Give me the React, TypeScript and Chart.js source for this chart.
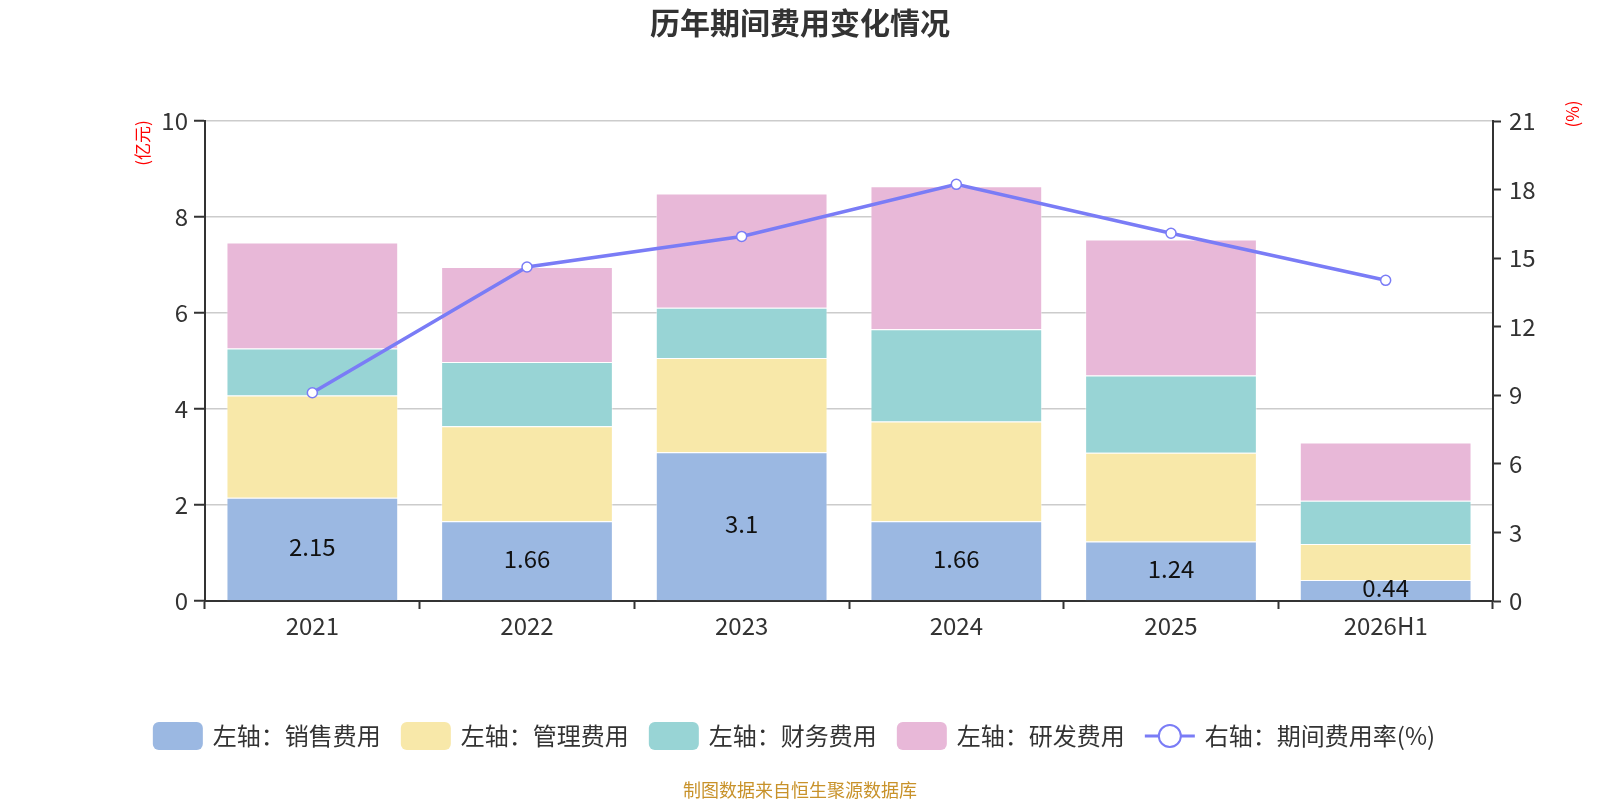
import React, { useEffect, useRef } from "react";
import { Chart, registerables } from "chart.js";

Chart.register(...registerables);

const categories = ["2021", "2022", "2023", "2024", "2025", "2026H1"];
const salesExpense = [2.15, 1.66, 3.1, 1.66, 1.24, 0.44];
const adminExpense = [2.13, 1.98, 1.96, 2.08, 1.85, 0.75];
const financeExpense = [0.98, 1.34, 1.05, 1.92, 1.61, 0.9];
const rdExpense = [2.21, 1.98, 2.38, 2.98, 2.83, 1.21];
const expenseRate = [9.11, 14.61, 15.95, 18.23, 16.09, 14.03];

const seriesNames = ["左轴：销售费用", "左轴：管理费用", "左轴：财务费用", "左轴：研发费用", "右轴：期间费用率(%)"];
const titleText = "历年期间费用变化情况";
const sourceText = "制图数据来自恒生聚源数据库";
const leftAxisTitle = "(亿元)";
const rightAxisTitle = "(%)";

const FONT = "'Noto Sans CJK SC', 'Noto Sans', sans-serif";
const COLORS = ["#9bb8e2", "#f8e8a9", "#98d4d5", "#e8b8d8"];
const LINE_COLOR = "#7a7cf6";

const decorPlugin = {
  id: "decor",
  afterDatasetsDraw(chart: any) {
    const ctx = chart.ctx;
    const meta = chart.getDatasetMeta(0);
    ctx.save();
    ctx.font = `24px ${FONT}`;
    ctx.fillStyle = "#111";
    ctx.textAlign = "center";
    ctx.textBaseline = "middle";
    meta.data.forEach((el: any, i: number) => {
      const p = el.getProps(["x", "y", "base"], true);
      ctx.fillText(String(chart.data.datasets[0].data[i]), p.x, (p.y + p.base) / 2 - 2);
    });
    ctx.restore();
  },
  afterDraw(chart: any) {
    const ctx = chart.ctx;
    const W = chart.width;
    ctx.save();
    // title
    ctx.font = `bold 30px ${FONT}`;
    ctx.fillStyle = "#333";
    ctx.textAlign = "center";
    ctx.textBaseline = "middle";
    ctx.fillText(titleText, W / 2, 23);
    // source
    ctx.font = `18px ${FONT}`;
    ctx.fillStyle = "#c8922a";
    ctx.fillText(sourceText, W / 2, 790);
    // axis titles
    ctx.font = `17px ${FONT}`;
    ctx.fillStyle = "#ff0000";
    ctx.save();
    ctx.translate(143, 143);
    ctx.rotate(-Math.PI / 2);
    ctx.fillText(leftAxisTitle, 0, 0);
    ctx.restore();
    ctx.save();
    ctx.translate(1573, 114);
    ctx.rotate(-Math.PI / 2);
    ctx.fillText(rightAxisTitle, 0, 0);
    ctx.restore();

    // legend
    ctx.font = `24px ${FONT}`;
    ctx.textAlign = "left";
    const symW = 50;
    const gapText = 10;
    const gapItem = 20;
    const ds = chart.data.datasets;
    const widths = ds.map((d: any) => symW + gapText + ctx.measureText(d.label).width);
    const total = widths.reduce((a: number, b: number) => a + b, 0) + gapItem * (ds.length - 1);
    let x = 794 - total / 2;
    const cy = 736;
    ds.forEach((d: any, i: number) => {
      if (d.type === "line") {
        ctx.strokeStyle = d.borderColor;
        ctx.lineWidth = 3;
        ctx.beginPath();
        ctx.moveTo(x, cy);
        ctx.lineTo(x + symW, cy);
        ctx.stroke();
        ctx.beginPath();
        ctx.arc(x + symW / 2, cy, 11, 0, Math.PI * 2);
        ctx.fillStyle = "#fff";
        ctx.fill();
        ctx.lineWidth = 2;
        ctx.stroke();
      } else {
        ctx.fillStyle = d.backgroundColor;
        ctx.beginPath();
        (ctx as any).roundRect(x, cy - 14, symW, 28, 6);
        ctx.fill();
      }
      ctx.fillStyle = "#333";
      ctx.textBaseline = "middle";
      ctx.fillText(d.label, x + symW + gapText, cy);
      x += widths[i] + gapItem;
    });
    ctx.restore();
  },
};

export default function App() {
  const ref = useRef<HTMLCanvasElement | null>(null);
  useEffect(() => {
    document.body.style.margin = "0";
    const canvas = ref.current!;
    const barSets = [salesExpense, adminExpense, financeExpense, rdExpense].map((data, i) => ({
      type: "bar" as const,
      label: seriesNames[i],
      data,
      backgroundColor: COLORS[i],
      borderColor: "rgba(255,255,255,0.45)",
      borderWidth: 1,
      yAxisID: "y",
      stack: "s",
      order: 1,
      barPercentage: 0.8,
      categoryPercentage: 1.0,
    }));
    const chart = new Chart(canvas, {
      type: "bar",
      data: {
        labels: categories,
        datasets: [
          ...barSets,
          {
            type: "line" as const,
            label: seriesNames[4],
            data: expenseRate,
            borderColor: LINE_COLOR,
            backgroundColor: LINE_COLOR,
            borderWidth: 3.5,
            pointRadius: 5,
            pointBackgroundColor: "#fff",
            pointBorderColor: LINE_COLOR,
            pointBorderWidth: 1.5,
            yAxisID: "y1",
            order: 0,
            tension: 0,
          } as any,
        ],
      },
      options: {
        responsive: false,
        animation: false,
        devicePixelRatio: 1,
        layout: { padding: { top: 121, bottom: 159, left: 0, right: 0 } },
        plugins: {
          legend: { display: false },
          title: { display: false },
          tooltip: { enabled: false },
        },
        font: { family: FONT } as any,
        scales: {
          x: {
            stacked: true,
            offset: true,
            grid: {
              offset: true,
              drawOnChartArea: false,
              drawTicks: true,
              tickLength: 8,
              tickColor: "#333",
              tickWidth: 2,
            },
            border: { color: "#333", width: 2 },
            ticks: { color: "#333", font: { size: 24, family: FONT }, padding: 2 },
            afterFit(scale: any) {
              scale.height = 40;
            },
          },
          y: {
            stacked: true,
            position: "left",
            min: 0,
            max: 10,
            ticks: { stepSize: 2, color: "#333", font: { size: 24, family: FONT }, padding: 6 },
            grid: {
              color: "#cccccc",
              lineWidth: 1.5,
              tickLength: 11,
              tickColor: "#333",
              tickWidth: 2,
            },
            border: { color: "#333", width: 2 },
            afterFit(scale: any) {
              scale.width = 205;
            },
          },
          y1: {
            position: "right",
            min: 0,
            max: 21,
            ticks: { stepSize: 3, color: "#333", font: { size: 24, family: FONT }, padding: 8 },
            grid: {
              drawOnChartArea: false,
              tickLength: 8,
              tickColor: "#333",
              tickWidth: 2,
            },
            border: { color: "#333", width: 2 },
            afterFit(scale: any) {
              scale.width = 107;
            },
          },
        },
      },
      plugins: [decorPlugin],
    });
    return () => chart.destroy();
  }, []);
  return <canvas ref={ref} width={1600} height={800} style={{ display: "block" }} />;
}
